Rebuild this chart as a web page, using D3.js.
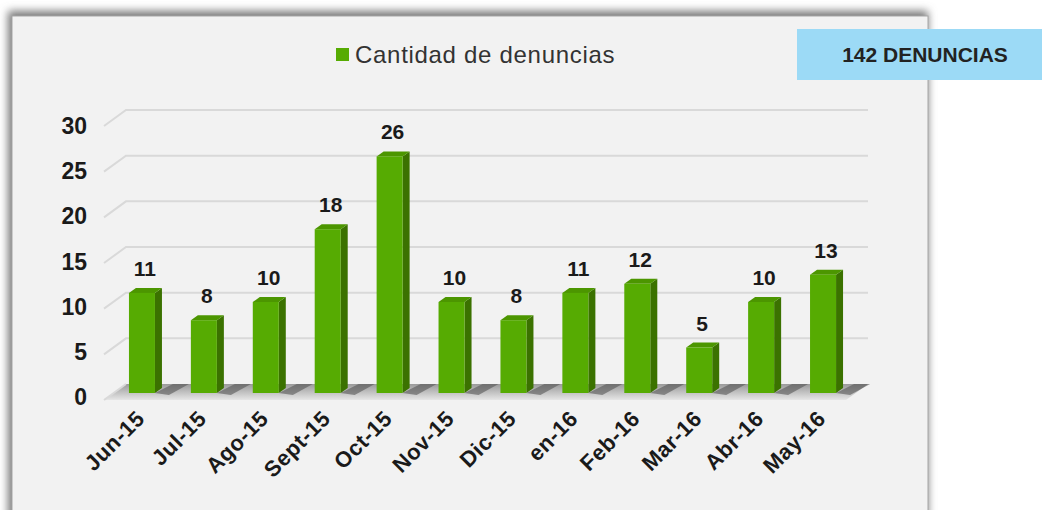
<!DOCTYPE html>
<html>
<head>
<meta charset="utf-8">
<script src="https://cdn.jsdelivr.net/npm/d3@7"></script>
<style>
  body { margin: 0; background: #fff; }
  svg { display: block; font-family: "Liberation Sans", Arial, sans-serif; }
</style>
</head>
<body>
<svg id="chart" width="1042" height="510"></svg>
<script>
// data
const months = ['Jun-15', 'Jul-15', 'Ago-15', 'Sept-15', 'Oct-15', 'Nov-15', 'Dic-15', 'en-16', 'Feb-16', 'Mar-16', 'Abr-16', 'May-16'];
const denuncias = [11, 8, 10, 18, 26, 10, 8, 11, 12, 5, 10, 13];
const yTicks = [0, 5, 10, 15, 20, 25, 30];
const legendLabel = 'Cantidad de denuncias';
const totalLabel = '142 DENUNCIAS';

const svg = d3.select('#chart');

// depth offset of the 3d back wall
const depth = { dx: 22, dy: -16 };
const barDepth = { dx: 7, dy: -5 };

const xScale = d3.scaleBand()
    .domain(months)
    .range([111, 854])
    .paddingInner(0.58)
    .paddingOuter(0.29);

// front plane (axis labels), back wall (gridlines), bars in the middle
const yFront = d3.scaleLinear().domain([0, 30]).range([400, 126]);
const yLabel = d3.scaleLinear().domain([0, 30]).range([397, 126]);
const yBar = d3.scaleLinear().domain([0, 30]).range([393, 120]);

// drop shadow + panel
const defs = svg.append('defs');
const blur = defs.append('filter').attr('id', 'shadow')
    .attr('x', '-5%').attr('y', '-10%').attr('width', '110%').attr('height', '120%');
blur.append('feGaussianBlur').attr('stdDeviation', 4);

svg.append('rect')
    .attr('x', 8).attr('y', 11).attr('width', 920).attr('height', 520)
    .attr('fill', '#777').attr('filter', 'url(#shadow)');
svg.append('rect')
    .attr('x', 12).attr('y', 16).attr('width', 916).attr('height', 520)
    .attr('fill', '#f2f2f2').attr('stroke', '#a6a6a6').attr('stroke-width', 1);

// floor gradient
const floorGrad = defs.append('linearGradient').attr('id', 'floor')
    .attr('x1', 0).attr('y1', 0).attr('x2', 0).attr('y2', 1);
floorGrad.append('stop').attr('offset', '0%').attr('stop-color', '#9a9a9a');
floorGrad.append('stop').attr('offset', '100%').attr('stop-color', '#e6e6e6');

const x0 = 104, x1 = 846;
const y0 = yFront(0);
svg.append('path')
    .attr('d', `M${x0},${y0} L${x0 + depth.dx},${y0 + depth.dy} L${x1 + depth.dx},${y0 + depth.dy} L${x1},${y0} Z`)
    .attr('fill', 'url(#floor)');

// gridlines on the back wall with the diagonal on the side wall
const grid = svg.append('g');
yTicks.filter(t => t > 0).forEach(t => {
    const yf = yFront(t);
    grid.append('path')
        .attr('d', `M${x0},${yf} L${x0 + depth.dx},${yf + depth.dy} L${x1 + depth.dx},${yf + depth.dy}`)
        .attr('fill', 'none')
        .attr('stroke', '#d9d9d9')
        .attr('stroke-width', 2);
});
grid.append('path')
    .attr('d', `M${x0},${y0} L${x0 + depth.dx},${y0 + depth.dy}`)
    .attr('stroke', '#d9d9d9').attr('stroke-width', 2);

// y labels
svg.append('g')
    .selectAll('text')
    .data(yTicks)
    .enter()
    .append('text')
    .attr('x', 87)
    .attr('y', d => yLabel(d))
    .attr('dy', '0.35em')
    .attr('text-anchor', 'end')
    .style('font-size', '23px')
    .style('font-weight', 'bold')
    .style('fill', '#1a1a1a')
    .text(d => d);

const data = months.map((m, i) => ({ month: m, value: denuncias[i] }));
const bw = xScale.bandwidth();

// floor shadows beneath bars
svg.append('g')
    .selectAll('path')
    .data(data)
    .enter()
    .append('path')
    .attr('d', d => {
        const x = xScale(d.month) + bw;
        const yb = yBar(0);
        return `M${x},${yb} L${x + 18},${yb - 9} L${x + 34},${yb - 9} L${x + 14},${yb + 2} Z`;
    })
    .attr('fill', '#555')
    .attr('opacity', 0.6);

const bars = svg.append('g')
    .selectAll('g')
    .data(data)
    .enter()
    .append('g');

// side face
bars.append('path')
    .attr('d', d => {
        const x = xScale(d.month) + bw;
        const yt = yBar(d.value), yb = yBar(0);
        return `M${x},${yb} L${x},${yt} L${x + barDepth.dx},${yt + barDepth.dy} L${x + barDepth.dx},${yb + barDepth.dy} Z`;
    })
    .attr('fill', '#3b7200');

// top face
bars.append('path')
    .attr('d', d => {
        const x = xScale(d.month);
        const yt = yBar(d.value);
        return `M${x},${yt} L${x + barDepth.dx},${yt + barDepth.dy} L${x + bw + barDepth.dx},${yt + barDepth.dy} L${x + bw},${yt} Z`;
    })
    .attr('fill', '#4c9600');

// front face
bars.append('rect')
    .attr('x', d => xScale(d.month))
    .attr('y', d => yBar(d.value))
    .attr('width', bw)
    .attr('height', d => yBar(0) - yBar(d.value))
    .attr('fill', '#56ab02');

// value labels
bars.append('text')
    .attr('x', d => xScale(d.month) + bw / 2 + 3)
    .attr('y', d => yBar(d.value) - 17)
    .attr('text-anchor', 'middle')
    .style('font-size', '21px')
    .style('font-weight', 'bold')
    .style('fill', '#1a1a1a')
    .text(d => d.value);

// x labels
svg.append('g')
    .selectAll('text')
    .data(months)
    .enter()
    .append('text')
    .attr('transform', d => `translate(${xScale(d) + bw / 2 + 4}, 420) rotate(-45)`)
    .attr('text-anchor', 'end')
    .style('font-size', '22px')
    .style('font-weight', 'bold')
    .style('letter-spacing', '0.5px')
    .style('fill', '#1a1a1a')
    .text(d => d);

// legend
const legend = svg.append('g').attr('transform', 'translate(336, 48)');
legend.append('rect').attr('width', 13).attr('height', 13).attr('fill', '#56ab02');
legend.append('text')
    .attr('x', 19).attr('y', 7).attr('dy', '0.35em')
    .style('font-size', '24px')
    .style('letter-spacing', '0.7px')
    .style('fill', '#333')
    .text(legendLabel);

// total box
svg.append('rect')
    .attr('x', 797).attr('y', 29).attr('width', 245).attr('height', 51)
    .attr('fill', '#9cdaf6');
svg.append('text')
    .attr('x', 925).attr('y', 55).attr('dy', '0.35em')
    .attr('text-anchor', 'middle')
    .style('font-size', '21px')
    .style('font-weight', 'bold')
    .style('fill', '#222')
    .text(totalLabel);
</script>
</body>
</html>
